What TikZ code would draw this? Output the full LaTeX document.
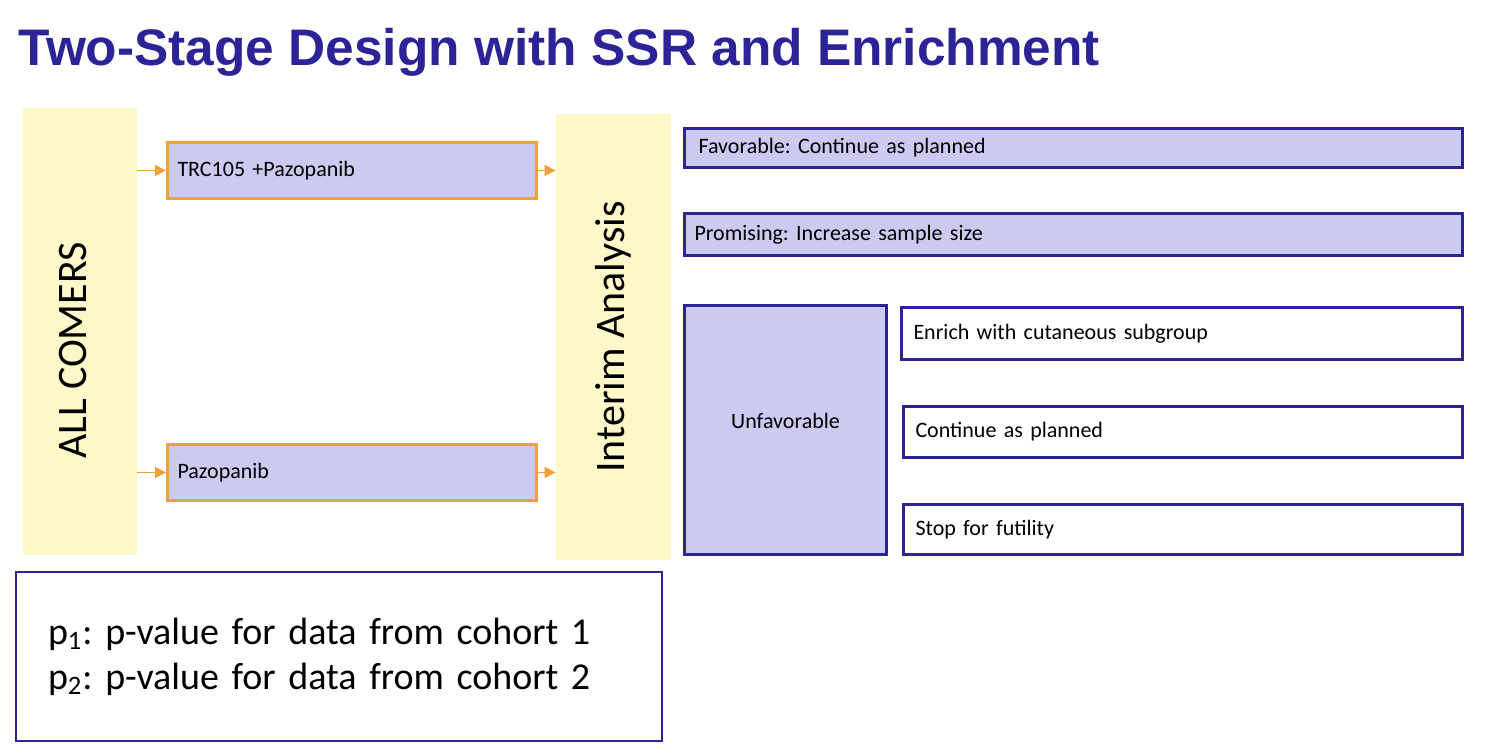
\documentclass[tikz,border=0pt]{standalone}
\usepackage{fontspec}
\setmainfont{Carlito}
\newfontfamily\titlefont{Liberation Sans}
\frenchspacing
\usetikzlibrary{arrows.meta}
\definecolor{navy}{RGB}{43,35,150}
\definecolor{cream}{RGB}{253,248,202}
\definecolor{lilac}{RGB}{203,203,242}
\definecolor{amber}{RGB}{238,160,58}
\begin{document}
\begin{tikzpicture}[x=0.5pt, y=-0.5pt,
  every node/.style = {shape=rectangle, inner sep=0pt, font=\fontsize{11}{13}\selectfont},
  band/.style = {fill=cream, font=\fontsize{21}{25}\selectfont, rotate=90},
  arm/.style = {draw=amber, line width=1.5pt, fill=lilac, align=left, inner xsep=5pt},
  choice/.style = {draw=navy, line width=1.5pt, fill=lilac, align=left, inner xsep=5pt},
  action/.style = {draw=navy, line width=1.5pt, fill=white, align=left, inner xsep=6pt},
  feed/.style = {draw=amber, line width=0.8pt, -{Triangle[length=5.5pt,width=5.5pt]}}]
  \useasboundingbox (0,0) rectangle (1485,754);
  \node[anchor=base west, text=navy, font=\titlefont\bfseries\fontsize{25.7}{30}\selectfont]
    (title) at (18,66) {Two-Stage Design with SSR and Enrichment};
  % the two yellow bands
  \node[band, minimum width=223.5pt, minimum height=57pt] (comers) at (80,331.5) {\raisebox{7pt}{ALL COMERS}\hspace*{19pt}};
  \node[band, minimum width=223pt, minimum height=57.5pt] (interim) at (613.5,337) {Interim Analysis};
  % treatment arms
  \node[arm, minimum width=184.5pt, minimum height=28pt, text width=174.5pt] (trc) at (352,170.5) {TRC105 +Pazopanib};
  \node[arm, minimum width=184.5pt, minimum height=28pt, text width=174.5pt] (pazo) at (352,472.5) {Pazopanib};
  \draw[feed] (comers.south |- trc.west) -- (trc.west);
  \draw[feed] (comers.south |- pazo.west) -- (pazo.west);
  \draw[feed] (trc.east) -- (interim.north |- trc.east);
  \draw[feed] (pazo.east) -- (interim.north |- pazo.east);
  % outcomes of the interim look
  \node[choice, minimum width=389pt, minimum height=19.5pt, text width=375pt, inner xsep=7pt] (fav) at (1073.5,148) {Favorable: Continue as planned};
  \node[choice, minimum width=389pt, minimum height=21pt, text width=379pt] (prom) at (1073.5,234.5) {Promising: Increase sample size};
  \node[choice, minimum width=101pt, minimum height=124.5pt, align=center] (unfav) at (785.5,430) {Unfavorable\\[-4pt]};
  \node[action, minimum width=280.5pt, minimum height=26pt, text width=268.5pt] (enrich) at (1182,333.5) {Enrich with cutaneous subgroup};
  \node[action, minimum width=279.5pt, minimum height=25.5pt, text width=267.5pt] (cont) at (1183,432) {Continue as planned};
  \node[action, minimum width=279.5pt, minimum height=25pt, text width=267.5pt] (stop) at (1183,529.5) {Stop for futility};
  % legend
  \node[draw=navy, line width=1pt, minimum width=323pt, minimum height=84.5pt, text width=291pt,
    align=left, font=\fontsize{19}{22.5}\selectfont] (note) at (339,656.5)
    {p\textsubscript{1}: p-value for data from cohort 1\\p\textsubscript{2}: p-value for data from cohort 2};
\end{tikzpicture}
\end{document}
